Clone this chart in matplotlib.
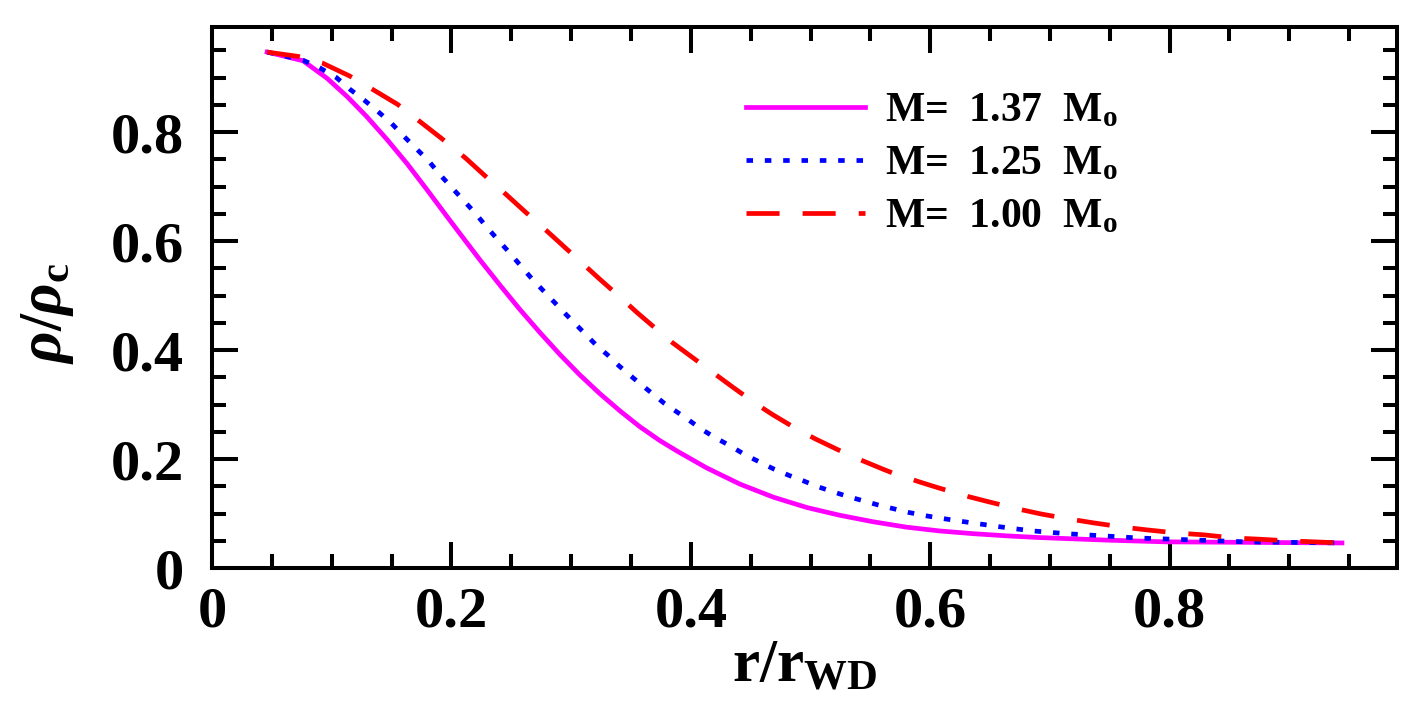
"""
Normalised density profiles rho/rho_c of white dwarfs for three masses.
"""

import numpy as np
import matplotlib
matplotlib.use("Agg")
import matplotlib.pyplot as plt
from matplotlib.ticker import MultipleLocator, FuncFormatter

# ── data ─────────────────────────────────────────────────────────────────────
labels = ["M=  1.37  $\\mathrm{M_o}$",
          "M=  1.25  $\\mathrm{M_o}$",
          "M=  1.00  $\\mathrm{M_o}$"]

r_137 = [0.046, 0.076, 0.096, 0.113, 0.129, 0.146, 0.163, 0.179, 0.196, 0.207,
         0.224, 0.241, 0.257, 0.274, 0.291, 0.307, 0.324, 0.341, 0.357, 0.374,
         0.389, 0.413, 0.441, 0.469, 0.497, 0.524, 0.552, 0.580, 0.608, 0.636,
         0.664, 0.690, 0.750, 0.797, 0.870, 0.944]
rho_137 = [0.947, 0.931, 0.899, 0.865, 0.829, 0.787, 0.742, 0.696, 0.646, 0.614,
           0.565, 0.518, 0.475, 0.432, 0.391, 0.355, 0.320, 0.288, 0.260, 0.234,
           0.214, 0.184, 0.154, 0.130, 0.111, 0.097, 0.085, 0.075, 0.068, 0.063,
           0.059, 0.056, 0.051, 0.048, 0.047, 0.046]

r_125 = [0.046, 0.076, 0.090, 0.104, 0.115, 0.127, 0.138, 0.150, 0.160, 0.170,
         0.181, 0.190, 0.200, 0.210, 0.220, 0.229, 0.239, 0.248, 0.257, 0.266,
         0.275, 0.285, 0.295, 0.304, 0.312, 0.321, 0.331, 0.340, 0.349, 0.359,
         0.369, 0.378, 0.388, 0.398, 0.408, 0.419, 0.433, 0.446, 0.458, 0.469,
         0.482, 0.494, 0.505, 0.516, 0.530, 0.543, 0.556, 0.569, 0.582, 0.596,
         0.610, 0.625, 0.641, 0.657, 0.671, 0.686, 0.714, 0.775, 0.864, 0.944]
rho_125 = [0.947, 0.932, 0.918, 0.900, 0.879, 0.859, 0.839, 0.816, 0.793, 0.771,
           0.747, 0.723, 0.699, 0.675, 0.651, 0.627, 0.602, 0.580, 0.557, 0.534,
           0.513, 0.490, 0.467, 0.447, 0.429, 0.409, 0.390, 0.371, 0.354, 0.336,
           0.318, 0.302, 0.287, 0.272, 0.256, 0.241, 0.224, 0.207, 0.194, 0.182,
           0.170, 0.160, 0.150, 0.142, 0.132, 0.124, 0.116, 0.109, 0.102, 0.096,
           0.091, 0.086, 0.081, 0.076, 0.072, 0.068, 0.063, 0.055, 0.048, 0.046]

r_100 = [0.046, 0.072, 0.092, 0.115, 0.133, 0.155, 0.171, 0.192, 0.212, 0.232,
         0.246, 0.261, 0.280, 0.293, 0.311, 0.324, 0.342, 0.355, 0.372, 0.385,
         0.435, 0.454, 0.468, 0.487, 0.504, 0.522, 0.539, 0.561, 0.568, 0.591,
         0.607, 0.632, 0.648, 0.674, 0.693, 0.716, 0.736, 0.761, 0.781, 0.807,
         0.828, 0.854, 0.874, 0.898, 0.944]
rho_100 = [0.947, 0.939, 0.927, 0.903, 0.880, 0.851, 0.824, 0.788, 0.752, 0.712,
           0.685, 0.655, 0.618, 0.592, 0.556, 0.530, 0.495, 0.469, 0.437, 0.413,
           0.332, 0.302, 0.282, 0.257, 0.237, 0.218, 0.201, 0.181, 0.175, 0.158,
           0.147, 0.131, 0.122, 0.108, 0.099, 0.090, 0.083, 0.075, 0.070, 0.064,
           0.061, 0.055, 0.053, 0.050, 0.046]

XMAX = 0.99
YMAX = 0.993
OUT_FILE = "out.png"
# ──────────────────────────────────────────────────────────────────────────────

plt.rcParams["font.family"] = ["Liberation Serif", "DejaVu Serif"]
plt.rcParams["font.weight"] = "bold"
plt.rcParams["mathtext.fontset"] = "custom"
plt.rcParams["mathtext.rm"] = "Liberation Serif:bold"
plt.rcParams["mathtext.it"] = "Liberation Serif:italic:bold"
plt.rcParams["mathtext.bf"] = "Liberation Serif:bold"
plt.rcParams["lines.scale_dashes"] = False

fig = plt.figure(figsize=(14.27, 7.18), dpi=100)
ax = fig.add_axes([0.1486, 0.2089, 0.8304, 0.7535])

LW = 3.4
ax.plot(r_137, rho_137, color="#ff00ff", lw=LW, ls="-", label=labels[0])
ax.plot(r_125, rho_125, color="#0000ff", lw=LW, ls=(0, (4.7, 8.5)), label=labels[1])
ax.plot(r_100, rho_100, color="#ff0000", lw=LW, ls=(0, (23.8, 16.6)), label=labels[2])

ax.set_xlim(0, XMAX)
ax.set_ylim(0, YMAX)

fmt = FuncFormatter(lambda v, pos: "0" if abs(v) < 1e-9 else f"{v:.1f}")
for axis in (ax.xaxis, ax.yaxis):
    axis.set_major_locator(MultipleLocator(0.2))
    axis.set_minor_locator(MultipleLocator(0.05))
    axis.set_major_formatter(fmt)

ax.tick_params(which="both", direction="in", top=True, right=True, width=2.9,
               labelsize=42)
ax.tick_params(which="major", length=19)
ax.tick_params(which="minor", length=10)
ax.tick_params(axis="x", pad=13)
ax.tick_params(axis="y", pad=20)
for sp in ax.spines.values():
    sp.set_linewidth(2.9)

ax.set_xlabel("$\\mathrm{r/r_{WD}}$", fontsize=44)
ax.set_ylabel("$\\rho/\\rho_\\mathrm{c}$", fontsize=44)
ax.xaxis.set_label_coords(0.5, -0.13)
ax.yaxis.set_label_coords(-0.115, 0.47)

ax.legend(loc="upper left", bbox_to_anchor=(0.4506, 0.879), frameon=False,
          fontsize=30, handlelength=2.86, handletextpad=0.48,
          labelspacing=0.35, borderpad=0, borderaxespad=0)

fig.savefig(OUT_FILE, dpi=100)
plt.close(fig)
